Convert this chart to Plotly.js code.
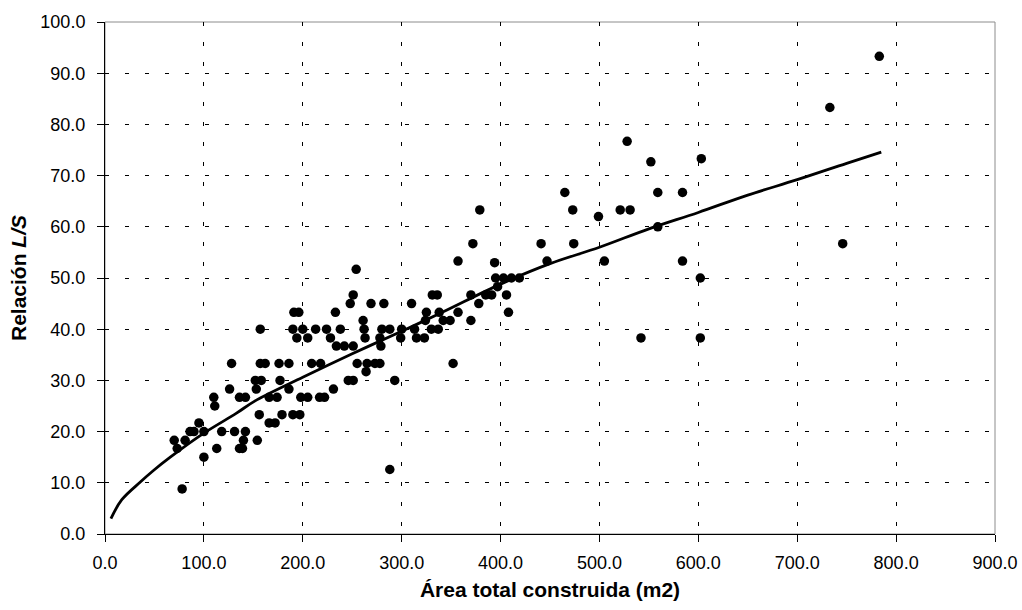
<!DOCTYPE html>
<html>
<head>
<meta charset="utf-8">
<script src="https://cdn.plot.ly/plotly-3.0.1.min.js"></script>
<style>html,body{margin:0;padding:0;background:#fff}#chart{width:1022px;height:610px}</style>
</head>
<body>
<div id="chart"></div>
<script>
// Observed points: built area (m2) vs L/S ratio
const areaX = [70,73,78,81,86,90,95,100,100,110,111,113,118,126,128,131,136,136,139,140,142,142,152,153,157,157,156,154,
  162,158,166,174,166,172,176,186,177,179,186,190,197,191,196,190,200,194,205,198,205,209,218,213,217,222,224,228,231,233,
  234,238,242,246,248,251,251,251,254,255,261,262,263,264,265,269,273,278,278,279,280,282,288,288,293,299,300,310,313,315,
  323,325,324,331,336,330,337,
  338,342,349,352,357,357,370,370,372,378,379,385,391,394,395,397,403,406,408,411,419,441,447,465,473,474,499,505,
  521,531,528,542,552,559,559,584,584,602,602,603,733,746,783];
const ratioY = [18.3,16.7,8.8,18.3,20,20,21.7,20,15,26.7,25,16.7,20,28.3,33.3,20,26.7,16.7,16.7,18.3,26.7,20,30,28.3,33.3,40,23.3,18.3,
  33.3,30,26.7,26.7,21.7,21.7,33.3,33.3,30,23.3,28.3,23.3,23.3,43.3,43.3,40,40,38.3,38.3,26.7,26.7,33.3,33.3,40,26.7,26.7,40,38.3,28.3,43.3,
  36.7,40,36.7,30,45,46.7,30,36.7,51.7,33.3,41.7,40,38.3,31.7,33.3,45,33.3,33.3,38.3,36.7,40,45,40,12.6,30,38.3,40,45,40,38.3,
  38.3,43.3,41.7,46.7,46.7,40,40,
  43.3,41.7,41.7,33.3,43.3,53.3,41.7,46.7,56.7,45,63.3,46.7,46.7,53,50,48.3,50,46.7,43.3,50,50,56.7,53.3,66.7,63.3,56.7,62,53.3,
  63.3,63.3,76.7,38.3,72.7,66.7,60,66.7,53.3,50,38.3,73.3,83.3,56.7,93.3];

// Fitted curve
const curveX = [6,17,36,49,66,100,133,151,200,250,300,340,400,450,500,550,600,650,700,750,785];
const curveY = [3.0,6.7,10.2,12.4,15.0,19.7,23.6,25.9,30.6,35.2,39.6,43.2,48.8,52.8,56.0,59.6,62.8,66.2,69.2,72.4,74.6];

const xTickVals = [0,100,200,300,400,500,600,700,800,900];
const xTickText = ['0.0','100.0','200.0','300.0','400.0','500.0','600.0','700.0','800.0','900.0'];
const yTickVals = [0,10,20,30,40,50,60,70,80,90,100];
const yTickText = ['0.0','10.0','20.0','30.0','40.0','50.0','60.0','70.0','80.0','90.0','100.0'];

const traces = [
  {x: areaX, y: ratioY, type: 'scatter', mode: 'markers',
   marker: {color: '#000', size: 9.5, line: {width: 0}}, hoverinfo: 'skip'},
  {x: curveX, y: curveY, type: 'scatter', mode: 'lines', line: {color: '#000', width: 2.8, shape: 'spline'}, hoverinfo: 'skip'}
];

const FONT = 'Liberation Sans, Arial, Helvetica, sans-serif';
const layout = {
  width: 1022, height: 610,
  margin: {l: 105, r: 27, t: 22, b: 76},
  paper_bgcolor: '#fff', plot_bgcolor: '#fff',
  showlegend: false,
  font: {family: FONT, color: '#000', size: 18},
  xaxis: {
    range: [0, 900], tickvals: xTickVals, ticktext: xTickText,
    showgrid: true, gridcolor: '#000', gridwidth: 1, griddash: '4px,16px',
    zeroline: false, showline: true, linecolor: '#000', linewidth: 1,
    ticks: 'outside', ticklen: 7, tickcolor: '#000', tickwidth: 1,
    ticklabelstandoff: 5,
    tickfont: {family: FONT, size: 18, color: '#000'},
    title: {text: '<b>Área total construida (m2)</b>', font: {family: FONT, size: 21, color: '#000'}, standoff: 10}
  },
  yaxis: {
    range: [0, 100], tickvals: yTickVals, ticktext: yTickText,
    showgrid: true, gridcolor: '#000', gridwidth: 1, griddash: '4px,16px',
    zeroline: false, showline: true, linecolor: '#000', linewidth: 1,
    ticks: 'outside', ticklen: 7, tickcolor: '#000', tickwidth: 1,
    ticklabelstandoff: 8,
    tickfont: {family: FONT, size: 18, color: '#000'},
    title: {text: '<b>Relación <i>L/S</i></b>', font: {family: FONT, size: 21, color: '#000'}, standoff: 8}
  },
  shapes: [
    {type: 'rect', xref: 'paper', yref: 'paper', x0: 0, x1: 1, y0: 0, y1: 1,
     line: {color: '#8c8c8c', width: 1}, layer: 'below'}
  ]
};

Plotly.newPlot('chart', traces, layout, {displayModeBar: false, staticPlot: true});
</script>
</body>
</html>
